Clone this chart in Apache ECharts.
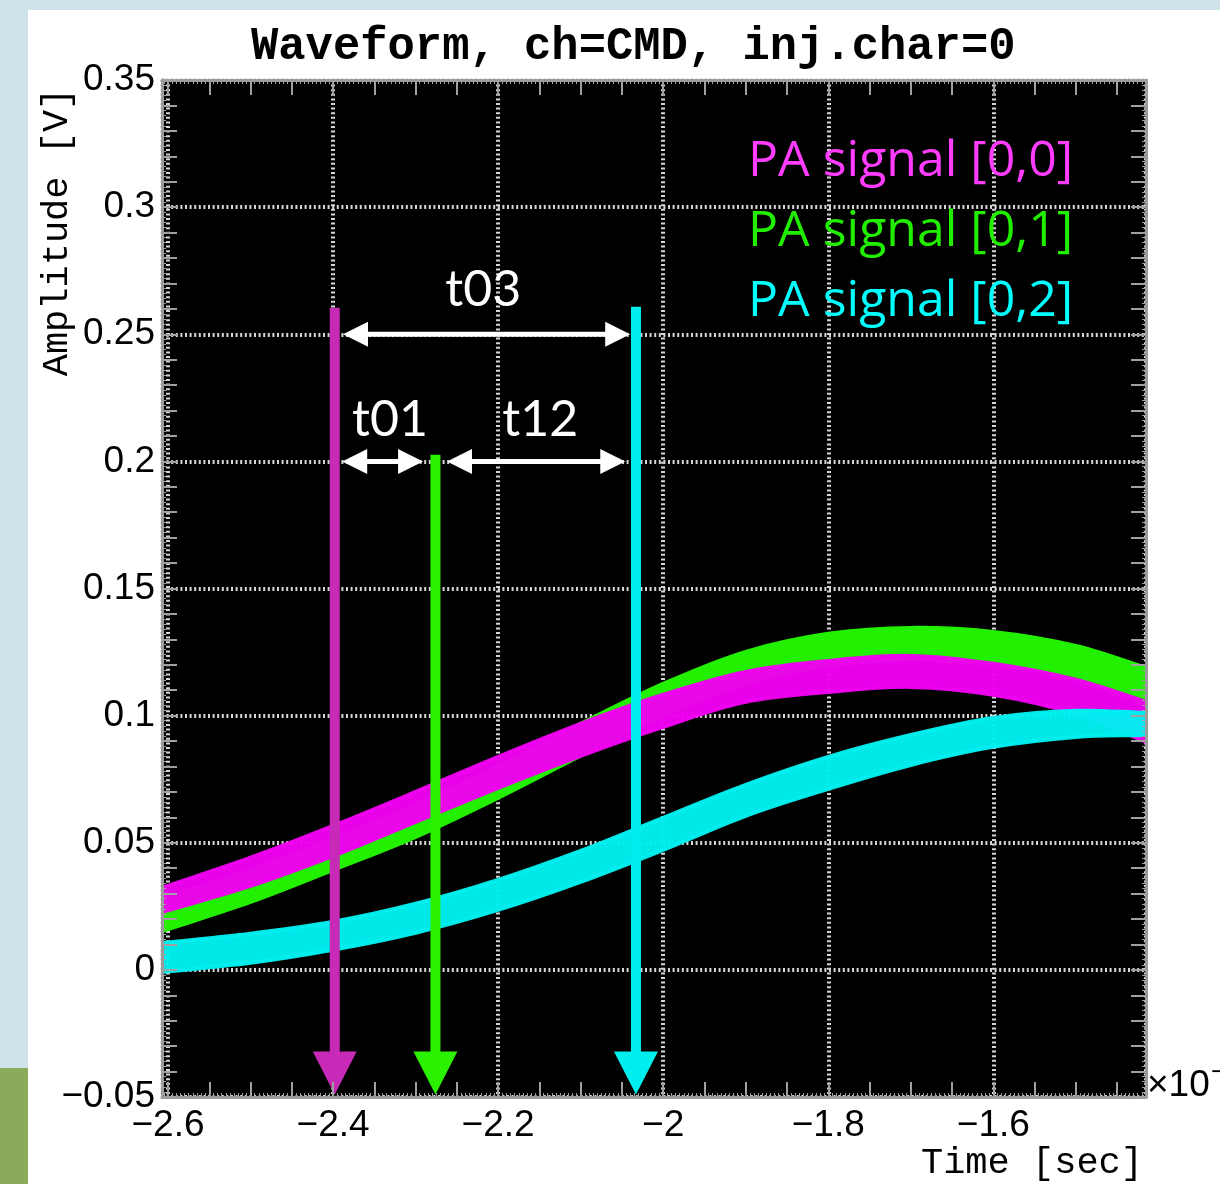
<!DOCTYPE html>
<html><head><meta charset="utf-8">
<script src="https://cdn.jsdelivr.net/npm/echarts@6/dist/echarts.min.js"></script>
<style>
html,body{margin:0;padding:0;width:1220px;height:1184px;overflow:hidden;background:#cee3e9;}
#panel{position:absolute;left:28px;top:10px;width:1192px;height:1174px;background:#fff;}
#strip{position:absolute;left:0;top:1068px;width:28px;height:116px;background:#8aab5b;}
#chart{position:absolute;left:0;top:0;width:1220px;height:1184px;}
</style></head><body>
<div id="panel"></div><div id="strip"></div><div id="chart"></div>
<script>
// ---------- data (time in units of 1e-7 s, amplitude in V) ----------
const titleText = 'Waveform, ch=CMD, inj.char=0';
const xAxisTitle = 'Time [sec]';
const yAxisTitle = 'Amplitude [V]';
const xExponentBase = '\u00d710';
const xExponentPower = '\u22127';
const seriesNames = ['PA signal [0,0]', 'PA signal [0,1]', 'PA signal [0,2]'];
const xRange = [-2.6073, -1.415];
const yRange = [-0.05, 0.35];

const time = [-2.607, -2.5, -2.4, -2.3, -2.2, -2.1, -2.0, -1.9, -1.8, -1.7, -1.6, -1.5, -1.415];
const pa00Upper = [0.0323, 0.0441, 0.0566, 0.0700, 0.0838, 0.0968, 0.1082, 0.1172, 0.1215, 0.1235, 0.1204, 0.1141, 0.1054];
const pa00Lower = [0.0228, 0.0330, 0.0448, 0.0582, 0.0716, 0.0842, 0.0956, 0.1054, 0.1093, 0.1113, 0.1082, 0.1007, 0.0897];
const pa01Upper = [0.0279, 0.0393, 0.0519, 0.0649, 0.0802, 0.0968, 0.1125, 0.1251, 0.1322, 0.1345, 0.1329, 0.1274, 0.1188];
const pa01Lower = [0.0153, 0.0267, 0.0393, 0.0523, 0.0677, 0.0842, 0.0999, 0.1125, 0.1196, 0.1219, 0.1200, 0.1141, 0.1042];
const pa02Upper = [0.0106, 0.0142, 0.0189, 0.0260, 0.0354, 0.0468, 0.0598, 0.0728, 0.0838, 0.0924, 0.0991, 0.1019, 0.1011];
const pa02Lower = [-0.0008, 0.0028, 0.0079, 0.0146, 0.0236, 0.0346, 0.0472, 0.0606, 0.0712, 0.0806, 0.0877, 0.0916, 0.0924];

// vertical timing markers: x, top, tip
const markerX = [-2.398, -2.276, -2.033];
const markerTop = [0.2604, 0.2026, 0.2608];
const markerTip = [-0.049, -0.049, -0.049];

// horizontal double arrows
const spanNames = ['t03', 't01', 't12'];
const spanFrom = [-2.388, -2.389, -2.262];
const spanTo = [-2.040, -2.291, -2.046];
const spanY = [0.25, 0.2, 0.2];
const spanLabelX = [-2.218, -2.331, -2.149];
const spanLabelY = [0.2675, 0.2163, 0.2163];

// ---------- styles ----------
const bandColors = ['#f000f0', '#22f000', '#00f0f0'];
const legendColors = ['#ff3cff', '#22ee00', '#00ffff'];
const markerColors = ['#c62ab6', '#2bf000', '#00eeee'];
const frameColor = '#9a9a9a';
const tickColor = '#a0a0a0';
const gridStyle = {color: '#d6d6d6', width: 4, type: [2, 2.6]};

const fmt = d => v => (v < -1e-9 ? '\u2212' : '') + String(+Math.abs(v).toFixed(d));

function xAxisDef(opts) {
  return Object.assign({
    type: 'value', min: xRange[0], max: xRange[1], minInterval: 0.2, maxInterval: 0.2, splitNumber: 6,
    axisLine: {show: false, onZero: false}, axisTick: {show: false}, axisLabel: {show: false},
    splitLine: {show: false}, minorTick: {show: false}, minorSplitLine: {show: false}, z: 10
  }, opts);
}
function yAxisDef(opts) {
  return Object.assign({
    type: 'value', min: yRange[0], max: yRange[1], interval: 0.05,
    axisLine: {show: false, onZero: false}, axisTick: {show: false}, axisLabel: {show: false},
    splitLine: {show: false}, minorTick: {show: false}, minorSplitLine: {show: false}, z: 10
  }, opts);
}
const tickOpt = {show: true, inside: true, length: 15, lineStyle: {color: tickColor, width: 2}};
const fineTickOpt = {show: true, inside: true, length: 4, lineStyle: {color: tickColor, width: 1}};
const frameLine = {show: true, onZero: false, lineStyle: {color: frameColor, width: 3}};

const xAxes = [
  xAxisDef({position: 'bottom', z: 0,
    splitLine: {show: true, lineStyle: gridStyle},
    axisLabel: {show: true, margin: 10, fontSize: 37, color: '#000', fontFamily: '"Liberation Sans", Arial, sans-serif',
      formatter: fmt(1), showMinLabel: false, showMaxLabel: false}}),
  xAxisDef({position: 'bottom', axisLine: frameLine, axisTick: tickOpt, minorTick: Object.assign({splitNumber: 4}, tickOpt)}),
  xAxisDef({position: 'top', axisLine: frameLine, axisTick: tickOpt, minorTick: Object.assign({splitNumber: 4}, tickOpt)}),
  xAxisDef({position: 'bottom', minInterval: 0.005, maxInterval: 0.005, splitNumber: 240, axisTick: fineTickOpt}),
  xAxisDef({position: 'top', minInterval: 0.005, maxInterval: 0.005, splitNumber: 240, axisTick: fineTickOpt})
];
const yAxes = [
  yAxisDef({position: 'left', z: 0,
    splitLine: {show: true, lineStyle: gridStyle},
    axisLabel: {show: true, margin: 7, fontSize: 37, color: '#000', fontFamily: '"Liberation Sans", Arial, sans-serif',
      formatter: fmt(2)}}),
  yAxisDef({position: 'left', axisLine: frameLine, axisTick: tickOpt, minorTick: Object.assign({splitNumber: 5}, tickOpt)}),
  yAxisDef({position: 'right', axisLine: frameLine, axisTick: tickOpt, minorTick: Object.assign({splitNumber: 5}, tickOpt)}),
  yAxisDef({position: 'left', interval: 0.002, axisTick: fineTickOpt}),
  yAxisDef({position: 'right', interval: 0.002, axisTick: fineTickOpt})
];

const bands = [
  {name: seriesNames[1], up: pa01Upper, lo: pa01Lower, c: bandColors[1], op: 1},
  {name: seriesNames[0], up: pa00Upper, lo: pa00Lower, c: bandColors[0], op: 0.97},
  {name: seriesNames[2], up: pa02Upper, lo: pa02Lower, c: bandColors[2], op: 0.97}
];
const series = [];
bands.forEach((b, i) => {
  series.push({
    name: b.name, type: 'custom', coordinateSystem: 'cartesian2d', clip: true, silent: true,
    z: 2 + i * 0.1, color: b.c,
    encode: {x: 0, y: [1, 2]},
    data: time.map((t, k) => [t, b.lo[k], b.up[k]]),
    renderItem(params, api) {
      if (params.dataIndex !== 0) return null;
      const upper = time.map((t, k) => api.coord([t, b.up[k]]));
      const lower = time.map((t, k) => api.coord([t, b.lo[k]])).reverse();
      const n = upper.length;
      // duplicate the end points so the smoothed outline keeps square ends
      const pts = [upper[0]].concat(upper, [upper[n - 1]], [lower[0]], lower, [lower[n - 1]]);
      return {
        type: 'polygon',
        shape: {points: pts, smooth: 0.35},
        style: {fill: b.c, stroke: b.c, lineWidth: 4, lineJoin: 'round', opacity: b.op}
      };
    }
  });
});

series.push({
  type: 'custom', coordinateSystem: 'cartesian2d', z: 5, clip: false, silent: true,
  data: markerX.map((x, i) => [x, markerTop[i], markerTip[i], i]),
  renderItem(params, api) {
    const top = api.coord([api.value(0), api.value(1)]);
    const tip = api.coord([api.value(0), api.value(2)]);
    const c = markerColors[api.value(3)];
    const headL = 43, headW = 44, shaft = 10;
    return {type: 'group', children: [
      {type: 'rect', shape: {x: top[0] - shaft / 2, y: top[1], width: shaft, height: tip[1] - headL - top[1] + 1}, style: {fill: c}},
      {type: 'polygon', shape: {points: [[tip[0] - headW / 2, tip[1] - headL], [tip[0] + headW / 2, tip[1] - headL], [tip[0], tip[1]]]}, style: {fill: c}}
    ]};
  }
});
series.push({
  type: 'custom', coordinateSystem: 'cartesian2d', z: 6, clip: false, silent: true,
  data: spanFrom.map((x, i) => [x, spanTo[i], spanY[i], spanLabelX[i], spanLabelY[i], i]),
  renderItem(params, api) {
    const a = api.coord([api.value(0), api.value(2)]);
    const b = api.coord([api.value(1), api.value(2)]);
    const lab = api.coord([api.value(3), api.value(4)]);
    const hl = 25, hw = 12.5, lw = 5;
    return {type: 'group', children: [
      {type: 'rect', shape: {x: a[0] + hl - 1, y: a[1] - lw / 2, width: b[0] - a[0] - 2 * hl + 2, height: lw}, style: {fill: '#fff'}},
      {type: 'polygon', shape: {points: [[a[0], a[1]], [a[0] + hl, a[1] - hw], [a[0] + hl, a[1] + hw]]}, style: {fill: '#fff'}},
      {type: 'polygon', shape: {points: [[b[0], b[1]], [b[0] - hl, b[1] - hw], [b[0] - hl, b[1] + hw]]}, style: {fill: '#fff'}},
      {type: 'text', x: lab[0], y: lab[1], style: {text: spanNames[api.value(5)], fill: '#fff',
        fontSize: 50, fontFamily: 'Lato, "Open Sans", sans-serif', align: 'center', verticalAlign: 'middle'}}
    ]};
  }
});

const option = {
  animation: false,
  backgroundColor: 'transparent',
  title: {text: titleText, left: 251, top: 25, padding: 0,
    textStyle: {fontFamily: '"Liberation Mono", "Courier New", monospace', fontSize: 45.5, fontWeight: 'bold', color: '#000'}},
  legend: {orient: 'vertical', left: 743, top: 127, padding: 0, icon: 'none', itemWidth: 0, itemHeight: 0, itemGap: 0,
    selectedMode: false,
    textStyle: {fontFamily: '"Open Sans", Lato, sans-serif', fontSize: 50, lineHeight: 70},
    data: seriesNames.map((n, i) => ({name: n, icon: 'none', textStyle: {color: legendColors[i]}}))},
  grid: {left: 162, right: 74, top: 80, bottom: 87, containLabel: false, outerBoundsMode: 'none',
    show: true, backgroundColor: '#000', borderWidth: 0},
  xAxis: xAxes,
  yAxis: yAxes,
  graphic: [
    {type: 'text', x: 57, y: 232, rotation: Math.PI / 2, z: 100,
      style: {text: yAxisTitle, fill: '#000', font: '37px "Liberation Mono", monospace', align: 'center', verticalAlign: 'middle'}},
    {type: 'text', x: 1143, y: 1163, z: 100,
      style: {text: xAxisTitle, fill: '#000', font: '37px "Liberation Mono", monospace', align: 'right', verticalAlign: 'middle'}},
    {type: 'text', x: 1147, y: 1086, z: 100,
      style: {text: xExponentBase, fill: '#000', font: '37px "Liberation Sans", Arial, sans-serif', align: 'left', verticalAlign: 'middle'}},
    {type: 'text', x: 1211, y: 1073, z: 100,
      style: {text: xExponentPower, fill: '#000', font: '26px "Liberation Sans", Arial, sans-serif', align: 'left', verticalAlign: 'middle'}}
  ],
  series: series
};
const chart = echarts.init(document.getElementById('chart'), null, {renderer: 'canvas'});
chart.setOption(option);
</script>
</body></html>
